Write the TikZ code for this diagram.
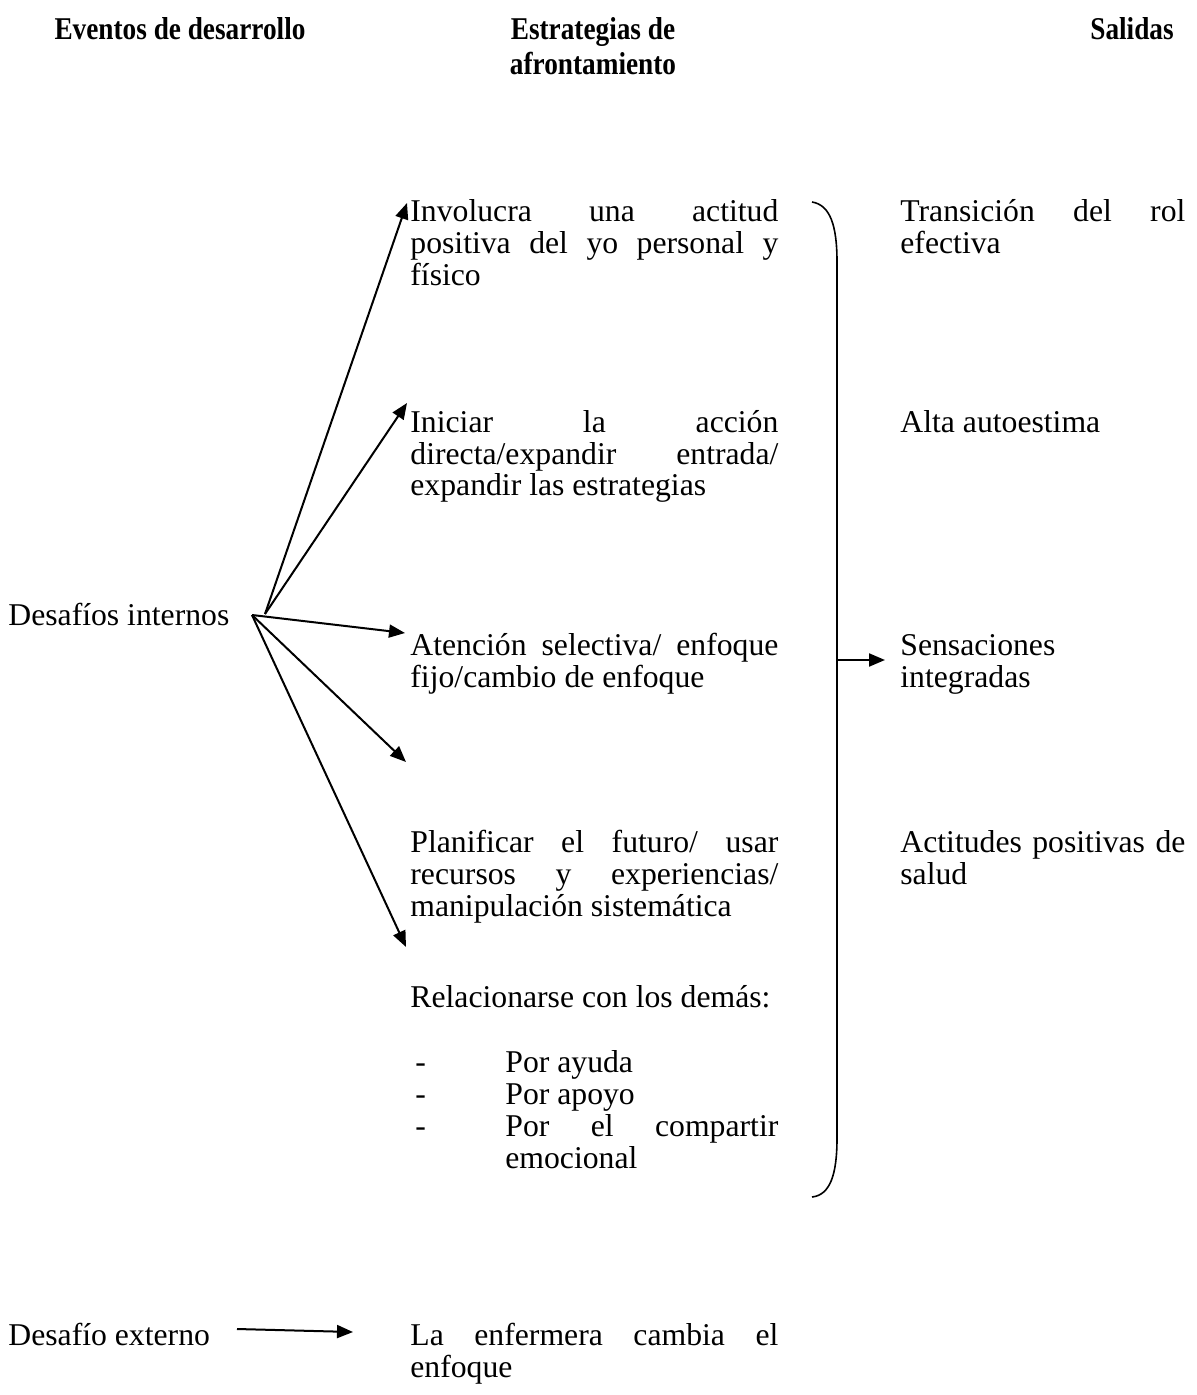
\documentclass[tikz,border=0pt]{standalone}
\usepackage{fontspec}
\setmainfont{Liberation Serif}
\newfontfamily\headfont[FakeStretch=0.86]{Liberation Serif}
\usetikzlibrary{arrows.meta}
\hyphenpenalty=10000
\exhyphenpenalty=10000

\tikzset{
  body/.style={inner sep=0pt, anchor=base west, font=\fontsize{15.85}{16}\selectfont},
  mid/.style={body, text width=184pt, align=justify},
  outtxt/.style={body, text width=142.5pt, align=justify},
  head/.style={inner sep=0pt, anchor=base, font=\headfont\bfseries\fontsize{15.85}{17.5}\selectfont},
  arr/.style={line width=1pt, -{Triangle[length=8pt,width=6.5pt]}},
}

\begin{document}
\begin{tikzpicture}[x=0.5pt, y=-0.5pt]
    \useasboundingbox (0,0) rectangle (1197,1395);

    % Headers
    \node[head] (head1) at (180,40) {Eventos de desarrollo};
    \node[head] (head2a) at (593,40) {Estrategias de};
    \node[head] (head2b) at (593,75) {afrontamiento};
    \node[head] (head3) at (1132,40) {Salidas};

    % Events
    \node[body] (dint) at (8,625) {Desafíos internos};
    \node[body] (dext) at (8,1345) {Desafío externo};

    % Coping strategies
    \node[mid] (inv) at (410,222) {Involucra una actitud \linebreak positiva del yo personal y \linebreak físico};
    \node[mid] (ini) at (410,432) {Iniciar la acción \linebreak directa/expandir entrada/ \linebreak expandir las estrategias};
    \node[mid] (ate) at (410,655) {Atención selectiva/ enfoque \linebreak fijo/cambio de enfoque};
    \node[mid] (pla) at (410,852) {Planificar el futuro/ usar \linebreak recursos y experiencias/ \linebreak manipulación sistemática};
    \node[body] (rel) at (410,1007) {Relacionarse con los demás:};
    \node[body] (dash1) at (415,1072) {-};
    \node[body] (dash2) at (415,1104) {-};
    \node[body] (dash3) at (415,1136) {-};
    \node[body] (ayu) at (505,1072) {Por ayuda};
    \node[body] (apo) at (505,1104) {Por apoyo};
    \node[body, text width=136.5pt, align=justify] (com) at (505,1136) {Por el compartir \linebreak emocional};
    \node[mid] (enf) at (410,1345) {La enfermera cambia el \linebreak enfoque};

    % Outcomes
    \node[outtxt] (sal1) at (900,222) {Transición del rol \linebreak efectiva};
    \node[outtxt] (sal2) at (900,432) {Alta autoestima};
    \node[outtxt] (sal3) at (900,655) {Sensaciones\\integradas};
    \node[outtxt] (sal4) at (900,852) {Actitudes positivas de \linebreak salud};

    % Arrows from internal challenges
    \coordinate (fork) at (252,615);
    \coordinate (fork2) at (265,614);
    \coordinate (tip1) at (407,203);
    \coordinate (tip2) at (407,403);
    \coordinate (tip3) at (405,633);
    \coordinate (tip4) at (406,762);
    \coordinate (tip5) at (406,947);
    \draw[arr] (fork2) -- (tip1);
    \draw[arr] (fork2) -- (tip2);
    \draw[arr] (fork) -- (tip3);
    \draw[arr] (fork) -- (tip4);
    \draw[arr] (fork) -- (tip5);

    % Brace
    \coordinate (btop) at (812,202);
    \coordinate (bbot) at (812,1197);
    \coordinate (bmid) at (837,660);
    \coordinate (bout) at (885,660);
    \draw[line width=0.8pt] (btop) .. controls (830,205) and (837,225) .. (837,262) -- (837,1138) .. controls (837,1175) and (830,1195) .. (bbot);
    \draw[arr] (bmid) -- (bout);

    % External challenge
    \coordinate (ext1) at (237,1329);
    \coordinate (ext2) at (353,1332);
    \draw[arr] (ext1) -- (ext2);
\end{tikzpicture}
\end{document}
